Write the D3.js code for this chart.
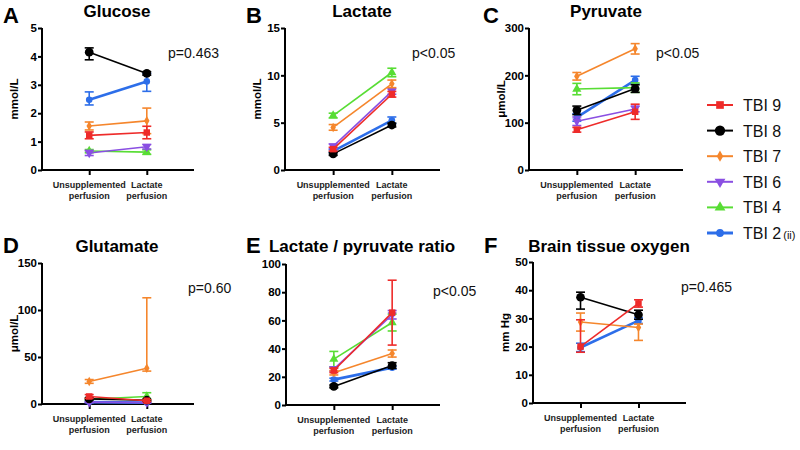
<!DOCTYPE html>
<html>
<head>
<meta charset="utf-8">
<script src="https://cdn.jsdelivr.net/npm/d3@7"></script>
<style>
  body { margin: 0; background: #fff; }
  svg { font-family: "Liberation Sans", Arial, Helvetica, sans-serif; }
</style>
</head>
<body>
<svg id="chart" width="800" height="450"></svg>
<script>
// ---------- data ----------
const categories = ["Unsupplemented perfusion", "Lactate perfusion"];
const seriesNames = ["TBI 9", "TBI 8", "TBI 7", "TBI 6", "TBI 4", "TBI 2"];
const seriesColors = ["#ee2b2a", "#000000", "#f5862c", "#8a4fe2", "#58dd34", "#2d6ee9"];
const seriesSymbols = ["square", "circle", "diamond", "triDown", "triUp", "dot"];

// rows in series order: [unsupplemented, lactate, errUnsup, errLact]; err may be [below, above]
const glucose = [
  [1.22, 1.32, 0.12, 0.22],
  [4.15, 3.40, [0.27, 0.15], 0.06],
  [1.55, 1.73, 0.14, 0.45],
  [0.60, 0.82, 0.09, 0.08],
  [0.67, 0.63, 0.05, 0.08],
  [2.47, 3.12, [0.18, 0.28], [0.35, 0.28]]
];
const lactate = [
  [2.2, 8.0, 0.2, 0.3],
  [1.7, 4.75, 0.15, 0.2],
  [4.5, 9.1, 0.3, 0.4],
  [2.5, 8.3, 0.25, 0.3],
  [5.75, 10.3, 0.25, 0.45],
  [2.0, 5.25, 0.15, 0.35]
];
const pyruvate = [
  [85, 123, 5, 16],
  [126, 172, 9, 8],
  [198, 256, 8, 11],
  [103, 129, 9, 6],
  [171, 174, 12, 10],
  [111, 190, 8, 8]
];
const glutamate = [
  [8.0, 3.5, 2, 1],
  [5.5, 4.0, 1, 1],
  [24, 38, 2, [3, 75]],
  [2.0, 1.5, 0.5, 0.5],
  [5.0, 8.0, 1, 4],
  [2.0, 1.5, 0.5, 0.5]
];
const lpRatio = [
  [24.5, 65.5, 1.5, 23],
  [13.2, 28.0, 1, 2],
  [22.8, 36.5, 1.5, 2.5],
  [25.5, 64.0, 1.5, 3],
  [32.5, 58.5, 5.5, 6],
  [18.0, 26.5, 1, 1]
];
const oxygen = [
  [20.0, 35.3, [2, 9.5], 1.3],
  [37.5, 31.3, [4.2, 1.8], 1.6],
  [28.7, 26.8, 3.2, [4.6, 1.2]],
  null,
  null,
  [19.7, 29.2, 1.5, 1]
];

const panelLetters = ["A", "B", "C", "D", "E", "F"];
const panelTitles = ["Glucose", "Lactate", "Pyruvate", "Glutamate", "Lactate / pyruvate ratio", "Brain tissue oxygen"];
const panelUnits = ["mmol/L", "mmol/L", "\u03bcmol/L", "\u03bcmol/L", "", "mm Hg"];
const panelPText = ["p=0.463", "p<0.05", "p<0.05", "p=0.60", "p<0.05", "p=0.465"];
const panelMax = [5, 15, 300, 150, 100, 50];
const panelTicks = [
  [0, 1, 2, 3, 4, 5],
  [0, 5, 10, 15],
  [0, 100, 200, 300],
  [0, 50, 100, 150],
  [0, 20, 40, 60, 80, 100],
  [0, 10, 20, 30, 40, 50]
];
const panelData = [glucose, lactate, pyruvate, glutamate, lpRatio, oxygen];

// ---------- layout ----------
const layout = [
  {x0: 42, x1: 194, yTop: 28, yBot: 170, letterX: 3, titleX: 117, pX: 168, pY: 58},
  {x0: 285, x1: 440, yTop: 28, yBot: 170, letterX: 246, titleX: 362, pX: 412, pY: 58},
  {x0: 529, x1: 683, yTop: 28, yBot: 170, letterX: 483, titleX: 606, pX: 656, pY: 58},
  {x0: 42, x1: 194, yTop: 263, yBot: 404, letterX: 3, titleX: 117, pX: 188, pY: 293},
  {x0: 286, x1: 440, yTop: 264, yBot: 405, letterX: 246, titleX: 362, pX: 433, pY: 296},
  {x0: 533, x1: 686, yTop: 262, yBot: 403, letterX: 484, titleX: 609, pX: 681, pY: 292}
];

const svg = d3.select("#chart");

function symbolPath(kind, big) {
  const sizes = {square: 42, circle: 60, diamond: 26, triDown: 36, triUp: 36, dot: 34};
  const types = {square: d3.symbolSquare, circle: d3.symbolCircle, diamond: d3.symbolDiamond,
    triDown: d3.symbolTriangle, triUp: d3.symbolTriangle, dot: d3.symbolCircle};
  return d3.symbol().type(types[kind]).size(sizes[kind] * (big || 1))();
}

function errParts(e) { return Array.isArray(e) ? e : [e, e]; }

panelData.forEach((data, i) => {
  const L = layout[i];
  const g = svg.append("g");
  const x = d3.scalePoint().domain(categories).range([L.x0, L.x1]).padding(0.82);
  const y = d3.scaleLinear().domain([0, panelMax[i]]).range([L.yBot, L.yTop]);

  // letter + title
  g.append("text").attr("x", L.letterX).attr("y", (i < 3 ? 23 : 253))
    .attr("font-size", 22).attr("font-weight", "bold").text(panelLetters[i]);
  g.append("text").attr("x", L.titleX).attr("y", (i < 3 ? 17 : 252))
    .attr("text-anchor", "middle").attr("font-size", 17).attr("font-weight", "bold")
    .text(panelTitles[i]);

  // y axis
  const yAxis = d3.axisLeft(y).tickValues(panelTicks[i]).tickFormat(d3.format("d"))
    .tickSize(4).tickPadding(1);
  const ya = g.append("g").attr("transform", `translate(${L.x0},0)`).call(yAxis);
  ya.select(".domain").attr("stroke-width", 2).attr("d", `M0,${L.yTop}V${L.yBot}`);
  ya.selectAll(".tick line").attr("stroke-width", 2);
  ya.selectAll(".tick text").attr("font-size", 11.5).attr("font-weight", "bold")
    .attr("font-family", "Liberation Sans, Arial, sans-serif").attr("fill", "#000");

  // x axis
  const xAxis = d3.axisBottom(x).tickSize(5).tickFormat("");
  const xa = g.append("g").attr("transform", `translate(0,${L.yBot})`).call(xAxis);
  xa.select(".domain").attr("stroke-width", 2).attr("d", `M${L.x0 - 1},0H${L.x1}`);
  xa.selectAll(".tick line").attr("stroke-width", 2);
  categories.forEach(c => {
    const words = c === categories[0] ? ["Unsupplemented", "perfusion"] : ["Lactate", "perfusion"];
    const t = g.append("text").attr("text-anchor", "middle").attr("font-size", 9)
      .attr("font-weight", "bold").attr("fill", "#222");
    words.forEach((w, k) => t.append("tspan").attr("x", x(c)).attr("y", L.yBot + 18 + k * 11).text(w));
  });

  // y label
  if (panelUnits[i]) {
    g.append("text").attr("transform", `translate(${L.x0 - 24},${(L.yTop + L.yBot) / 2}) rotate(-90)`)
      .attr("text-anchor", "middle").attr("font-size", 11.5).attr("font-weight", "bold")
      .text(panelUnits[i]);
  }

  // p text
  g.append("text").attr("x", L.pX).attr("y", L.pY).attr("font-size", 14).attr("fill", "#111")
    .text(panelPText[i]);

  // series (draw in reverse so TBI 9 ends on top like the reference)
  const order = [5, 4, 3, 2, 1, 0];
  order.forEach(s => {
    const row = data[s];
    if (!row) return;
    const col = seriesColors[s];
    const sg = g.append("g");
    const pts = [[categories[0], row[0], row[2]], [categories[1], row[1], row[3]]];
    // error bars
    pts.forEach(p => {
      const [lo, hi] = errParts(p[2]);
      const cx = x(p[0]);
      const yl = y(p[1] - lo), yh = y(p[1] + hi);
      sg.append("line").attr("x1", cx).attr("x2", cx).attr("y1", yl).attr("y2", yh)
        .attr("stroke", col).attr("stroke-width", 1.6);
      [yl, yh].forEach(yy => sg.append("line").attr("x1", cx - 4.5).attr("x2", cx + 4.5)
        .attr("y1", yy).attr("y2", yy).attr("stroke", col).attr("stroke-width", 1.6));
    });
    // line
    sg.append("path").attr("d", d3.line().x(p => x(p[0])).y(p => y(p[1]))(pts))
      .attr("fill", "none").attr("stroke", col).attr("stroke-width", s === 5 ? 2.6 : 1.6);
    // markers
    pts.forEach(p => {
      const kind = seriesSymbols[s];
      sg.append("path").attr("d", symbolPath(kind))
        .attr("transform", `translate(${x(p[0])},${y(p[1])})${kind === "triDown" ? " rotate(180)" : ""}`)
        .attr("fill", col);
    });
  });
});

// ---------- legend ----------
const legendY = d3.scalePoint().domain(seriesNames).range([105, 233]);
const lg = svg.append("g");
seriesNames.forEach((name, s) => {
  const yy = legendY(name);
  const col = seriesColors[s];
  lg.append("line").attr("x1", 707).attr("x2", 733).attr("y1", yy).attr("y2", yy)
    .attr("stroke", col).attr("stroke-width", s === 5 ? 3 : 2);
  const kind = seriesSymbols[s];
  lg.append("path").attr("d", symbolPath(kind, 1.4))
    .attr("transform", `translate(720,${yy})${kind === "triDown" ? " rotate(180)" : ""}`)
    .attr("fill", col);
  const t = lg.append("text").attr("x", 743).attr("y", yy + 6).attr("font-size", 16)
    .attr("font-family", "Liberation Sans, Arial, sans-serif").attr("fill", "#111").text(name);
  if (s === 5) t.append("tspan").attr("font-size", 11).attr("dx", 2).text("(ii)");
});
</script>
</body>
</html>
